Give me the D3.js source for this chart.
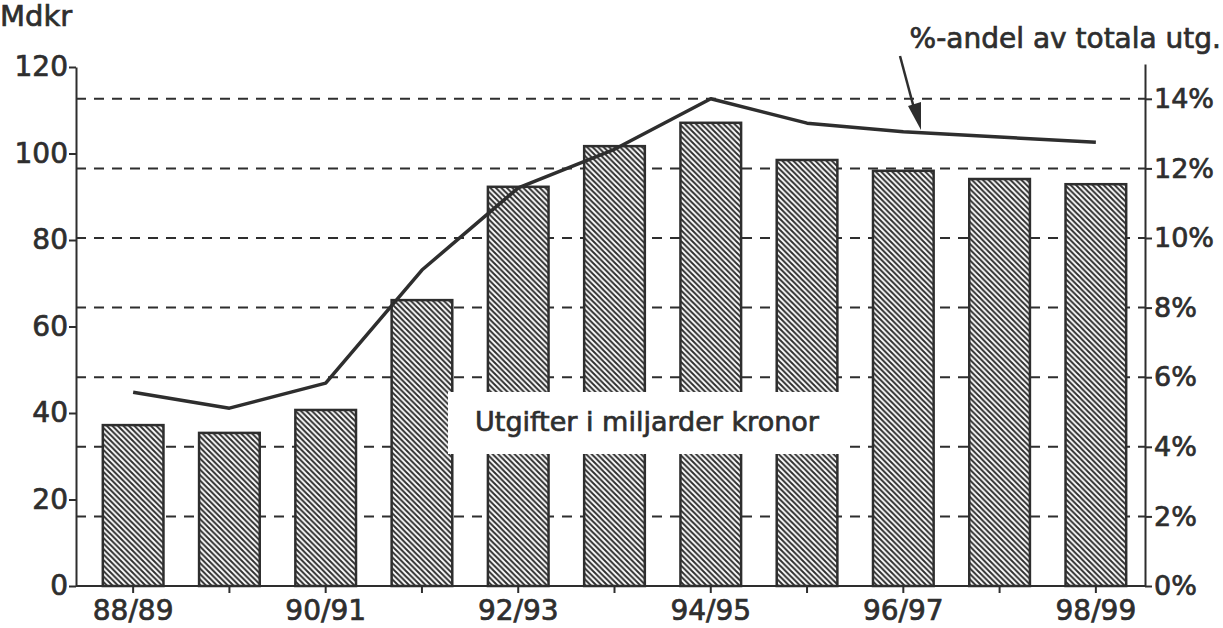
<!DOCTYPE html>
<html>
<head>
<meta charset="utf-8">
<script src="https://cdn.jsdelivr.net/npm/d3@7"></script>
<style>
  body { margin: 0; background: #fff; }
  svg text { font-family: "DejaVu Sans", sans-serif; fill: #2e2e2e; stroke: #2e2e2e; stroke-width: 0.7px; }
</style>
</head>
<body>
<div id="chart"></div>
<script>
// budget years
const years = ["88/89", "89/90", "90/91", "91/92", "92/93", "93/94", "94/95", "95/96", "96/97", "97/98", "98/99"]
// expenditure, billion kronor (left axis)
const mdkr = [37.2, 35.4, 40.7, 66.1, 92.3, 101.7, 107.1, 98.5, 96.0, 94.1, 92.9]
// share of total expenditure, % (right axis)
const share = [5.57, 5.11, 5.83, 9.08, 11.44, 12.55, 14.0, 13.3, 13.05, 12.9, 12.75]

const leftTicks = [0, 20, 40, 60, 80, 100, 120]
const rightTicks = [0, 2, 4, 6, 8, 10, 12, 14]
const labelYears = ["88/89", "90/91", "92/93", "94/95", "96/97", "98/99"]

const W = 1223, H = 628
const ink = "#2e2e2e"
const axisLeftX = 76, axisRightX = 1145, baseY = 586

const svg = d3.select("#chart").append("svg")
    .attr("width", W)
    .attr("height", H)

// hatch pattern for the bars
let defs = svg.append("defs")
let pat = defs.append("pattern")
    .attr("id", "hatch")
    .attr("patternUnits", "userSpaceOnUse")
    .attr("width", 5.5)
    .attr("height", 5.5)
pat.append("rect").attr("width", 5.5).attr("height", 5.5).attr("fill", "#fff")
pat.append("path")
    .attr("d", "M-1,-1 L6.5,6.5 M-1,4.5 L1,6.5 M4.5,-1 L6.5,1")
    .attr("stroke", ink)
    .attr("stroke-width", 2)

// scales
let x = d3.scaleBand()
    .domain(years)
    .range([85, 1144])
    .padding(0)

let yL = d3.scaleLinear().domain([0, 120]).range([baseY, 67])
let yR = d3.scaleLinear().domain([0, 15]).range([baseY, 64])

let barW = x.bandwidth() * 0.63

// dashed grid lines at the % ticks
svg.append("g")
    .selectAll("line")
    .data(rightTicks.filter(d => d > 0))
    .enter().append("line")
    .attr("x1", axisLeftX)
    .attr("x2", axisRightX)
    .attr("y1", d => yR(d))
    .attr("y2", d => yR(d))
    .attr("stroke", ink)
    .attr("stroke-width", 2)
    .attr("stroke-dasharray", "10,8")

// bars
svg.append("g")
    .selectAll("rect")
    .data(years)
    .enter().append("rect")
    .attr("x", (d) => x(d) + x.bandwidth() / 2 - barW / 2)
    .attr("y", (d, i) => yL(mdkr[i]))
    .attr("width", barW)
    .attr("height", (d, i) => baseY - yL(mdkr[i]))
    .attr("fill", "url(#hatch)")
    .attr("stroke", ink)
    .attr("stroke-width", 2.5)

// label box over the bars
svg.append("rect")
    .attr("x", 448)
    .attr("y", 392)
    .attr("width", 398)
    .attr("height", 62)
    .attr("fill", "#fff")
svg.append("text")
    .attr("x", 647)
    .attr("y", 431)
    .attr("text-anchor", "middle")
    .attr("font-size", 27)
    .text("Utgifter i miljarder kronor")

// share line
let line = d3.line()
    .x((d, i) => x(years[i]) + x.bandwidth() / 2)
    .y(d => yR(d))

svg.append("path")
    .datum(share)
    .attr("d", line)
    .attr("fill", "none")
    .attr("stroke", ink)
    .attr("stroke-width", 3.5)
    .attr("stroke-linejoin", "round")

// left axis
let gL = svg.append("g").attr("transform", `translate(${axisLeftX},0)`)
gL.call(d3.axisLeft(yL).tickValues(d3.range(0, 121, 10)).tickSize(4).tickSizeOuter(0).tickFormat(""))
gL.call(d3.axisLeft(yL).tickValues(leftTicks).tickSize(7).tickSizeOuter(0).tickPadding(1))
gL.selectAll("path, line").attr("stroke", ink).attr("stroke-width", 2)
gL.selectAll("text").attr("font-size", 28).attr("fill", ink).attr("font-family", "DejaVu Sans, sans-serif")

// right axis
let gR = svg.append("g").attr("transform", `translate(${axisRightX},0)`)
gR.call(d3.axisRight(yR).tickValues(d3.range(0, 15, 1)).tickSize(4).tickSizeOuter(0).tickFormat(""))
gR.call(d3.axisRight(yR).tickValues(rightTicks).tickSize(7).tickSizeOuter(0).tickPadding(2).tickFormat(d => d + "%"))
gR.selectAll("path, line").attr("stroke", ink).attr("stroke-width", 2)
gR.selectAll("text").attr("font-size", 27).attr("fill", ink).attr("font-family", "DejaVu Sans, sans-serif")

// x axis
let gX = svg.append("g").attr("transform", `translate(0,${baseY})`)
gX.call(d3.axisBottom(x).tickSize(7).tickSizeOuter(0).tickPadding(7)
    .tickFormat(d => labelYears.includes(d) ? d : ""))
gX.select(".domain").remove()
gX.append("line")
    .attr("x1", axisLeftX)
    .attr("x2", axisRightX)
    .attr("stroke", ink)
    .attr("stroke-width", 2.5)
gX.selectAll("line").attr("stroke", ink).attr("stroke-width", 2)
gX.selectAll("text").attr("font-size", 28).attr("fill", ink).attr("font-family", "DejaVu Sans, sans-serif")

// unit label
svg.append("text")
    .attr("x", 0)
    .attr("y", 26)
    .attr("font-size", 29)
    .text("Mdkr")

// annotation for the line
svg.append("text")
    .attr("x", 1221)
    .attr("y", 48)
    .attr("text-anchor", "end")
    .attr("font-size", 28)
    .text("%-andel av totala utg.")

svg.append("line")
    .attr("x1", 900)
    .attr("y1", 56)
    .attr("x2", 915)
    .attr("y2", 112)
    .attr("stroke", ink)
    .attr("stroke-width", 2.5)
svg.append("path")
    .attr("d", "M908,106 L921,130 L921,102 Z")
    .attr("fill", ink)
</script>
</body>
</html>
